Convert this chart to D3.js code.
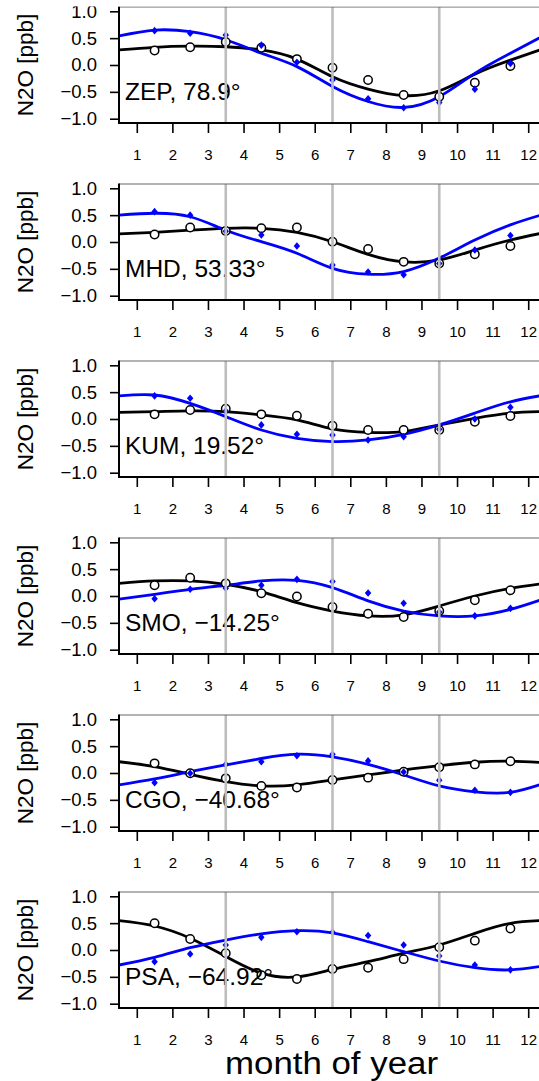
<!DOCTYPE html>
<html><head><meta charset="utf-8">
<script src="https://cdn.jsdelivr.net/npm/d3@7"></script>
<style>
body{margin:0;background:#fff}
svg{display:block}
text{font-family:"Liberation Sans",Arial,Helvetica,sans-serif;fill:#000}
</style>
</head><body>
<svg id="c" width="539" height="1081"></svg>
<script>
// ---- data ----
const stations = ["ZEP", "MHD", "KUM", "SMO", "CGO", "PSA"];
const latitudes = ["78.9°", "53.33°", "19.52°", "−14.25°", "−40.68°", "−64.92°"];
const monthTicks = [1,2,3,4,5,6,7,8,9,10,11,12];
const yTicks = [-1.0, -0.5, 0.0, 0.5, 1.0];
const seasonBreaks = [3.5, 6.5, 9.5];
const pointMonths = [1.5,2.5,3.5,4.5,5.5,6.5,7.5,8.5,9.5,10.5,11.5];
const curveMonths = [0.5,1.5,2.5,3.5,4.5,5.5,6.5,7.5,8.5,9.5,10.5,11.5,12.5];

// open black circles, one row per station
const circleValues = [
  [0.27, 0.33, 0.43, 0.32, 0.11, -0.05, -0.28, -0.56, -0.59, -0.33, -0.02],
  [0.14, 0.27, 0.205, 0.255, 0.27, 0.006, -0.13, -0.37, -0.40, -0.23, -0.075],
  [0.087, 0.168, 0.19, 0.087, 0.06, -0.125, -0.205, -0.205, -0.205, -0.05, 0.056],
  [0.199, 0.34, 0.236, 0.05, -0.01, -0.205, -0.33, -0.39, -0.28, -0.08, 0.106],
  [0.18, -0.006, -0.10, -0.24, -0.27, -0.13, -0.087, 0.024, 0.106, 0.16, 0.22],
  [0.497, 0.205, -0.06, -0.47, -0.54, -0.354, -0.33, -0.17, 0.05, 0.174, 0.40]
];
// blue diamonds
const diamondValues = [
  [0.64, 0.59, 0.56, 0.37, 0.05, -0.28, -0.63, -0.795, -0.70, -0.45, 0.03],
  [0.565, 0.50, 0.20, 0.13, -0.075, -0.43, -0.56, -0.61, -0.40, -0.15, 0.12],
  [0.43, 0.385, 0.15, -0.11, -0.285, -0.30, -0.39, -0.33, -0.19, 0.0, 0.22],
  [-0.05, 0.125, 0.143, 0.20, 0.31, 0.27, 0.056, -0.136, -0.30, -0.37, -0.23],
  [-0.18, -0.006, 0.16, 0.21, 0.32, 0.35, 0.225, 0.02, -0.136, -0.32, -0.36],
  [-0.217, -0.075, 0.093, 0.236, 0.34, 0.33, 0.27, 0.093, -0.11, -0.28, -0.37]
];
// black fitted curve (read at curveMonths)
const blackFit = [
  [0.28, 0.33, 0.35, 0.34, 0.28, 0.11, -0.22, -0.45, -0.57, -0.48, -0.17, 0.09, 0.32],
  [0.15, 0.18, 0.22, 0.255, 0.255, 0.18, 0.005, -0.23, -0.37, -0.335, -0.15, 0.037, 0.18],
  [0.125, 0.136, 0.15, 0.136, 0.075, -0.018, -0.185, -0.25, -0.235, -0.11, 0.013, 0.11, 0.14],
  [0.236, 0.28, 0.28, 0.217, 0.08, -0.125, -0.28, -0.37, -0.35, -0.186, 0.0, 0.143, 0.24],
  [0.21, 0.12, -0.024, -0.16, -0.24, -0.22, -0.13, -0.037, 0.056, 0.136, 0.20, 0.22, 0.19],
  [0.546, 0.447, 0.22, -0.12, -0.43, -0.50, -0.36, -0.217, -0.06, 0.093, 0.31, 0.497, 0.55]
];
// blue fitted curve
const blueFit = [
  [0.54, 0.65, 0.62, 0.47, 0.22, -0.03, -0.40, -0.68, -0.79, -0.59, -0.155, 0.22, 0.57],
  [0.50, 0.535, 0.47, 0.22, 0.006, -0.21, -0.49, -0.60, -0.55, -0.30, 0.037, 0.32, 0.53],
  [0.43, 0.447, 0.29, 0.045, -0.205, -0.36, -0.42, -0.39, -0.285, -0.11, 0.11, 0.32, 0.45],
  [-0.06, 0.032, 0.125, 0.20, 0.28, 0.29, 0.155, -0.09, -0.28, -0.37, -0.37, -0.25, -0.04],
  [-0.22, -0.11, 0.024, 0.15, 0.27, 0.35, 0.30, 0.16, -0.037, -0.24, -0.35, -0.36, -0.18],
  [-0.28, -0.136, 0.043, 0.186, 0.30, 0.36, 0.32, 0.155, -0.03, -0.205, -0.33, -0.37, -0.29]
];

// ---- layout ----
const svg = d3.select("#c");
const firstTop = 7, step = 177, boxH = 116;
const x = d3.scaleLinear().domain([0.5, 12.5]).range([119, 546]);
const BLUE = "#0000ff";

stations.forEach((st, i) => {
  const top = firstTop + i * step;
  const bottom = top + boxH;
  const y = d3.scaleLinear().domain([-1.08, 1.08]).range([bottom, top]);
  const g = svg.append("g");

  const clipId = "clip" + i;
  g.append("clipPath").attr("id", clipId).append("rect")
    .attr("x", x(0.5)).attr("y", top).attr("width", x(12.5) - x(0.5)).attr("height", boxH);

  // y axis
  const ya = g.append("g").attr("transform", `translate(${x(0.5)},0)`)
    .call(d3.axisLeft(y).tickValues(yTicks).tickSize(9).tickSizeOuter(0).tickPadding(13)
      .tickFormat(d3.format(".1f")));
  ya.select(".domain").remove();
  ya.selectAll("line").attr("stroke", "#000").attr("stroke-width", 1.6);
  ya.selectAll("text").style("font-size", "18.5px").attr("fill", "#000")
    .style("font-family", '"Liberation Sans",Arial,sans-serif');

  // x axis
  const xa = g.append("g").attr("transform", `translate(0,${bottom})`)
    .call(d3.axisBottom(x).tickValues(monthTicks).tickSize(10).tickSizeOuter(0).tickPadding(16)
      .tickFormat(d3.format("d")));
  xa.select(".domain").remove();
  xa.selectAll("line").attr("stroke", "#000").attr("stroke-width", 1.6);
  xa.selectAll("text").style("font-size", "15px").attr("fill", "#000")
    .style("font-family", '"Liberation Sans",Arial,sans-serif');

  // y title
  g.append("text")
    .attr("transform", `translate(33,${(top + bottom) / 2}) rotate(-90)`)
    .attr("text-anchor", "middle").style("font-size", "22.5px").attr("fill", "#111")
    .text("N2O [ppb]");

  const plot = g.append("g").attr("clip-path", `url(#${clipId})`);

  const line = d3.line().x(d => x(d[0])).y(d => y(d[1])).curve(d3.curveNatural);
  plot.append("path").datum(curveMonths.map((m, k) => [m, blackFit[i][k]]))
    .attr("d", line).attr("fill", "none").attr("stroke", "#000").attr("stroke-width", 2.8);
  plot.append("path").datum(curveMonths.map((m, k) => [m, blueFit[i][k]]))
    .attr("d", line).attr("fill", "none").attr("stroke", BLUE).attr("stroke-width", 2.8);

  plot.selectAll("circle.obs").data(pointMonths.map((m, k) => [m, circleValues[i][k]]))
    .enter().append("circle").attr("class", "obs")
    .attr("cx", d => x(d[0])).attr("cy", d => y(d[1])).attr("r", 4.2)
    .attr("fill", "#fff").attr("stroke", "#000").attr("stroke-width", 1.5);

  plot.selectAll("path.dia").data(pointMonths.map((m, k) => [m, diamondValues[i][k]]))
    .enter().append("path").attr("class", "dia")
    .attr("d", d => {
      const cx = x(d[0]), cy = y(d[1]), r = 3.8;
      return `M${cx},${cy - r}L${cx + r * 0.85},${cy}L${cx},${cy + r}L${cx - r * 0.85},${cy}Z`;
    })
    .attr("fill", BLUE);

  // station label
  g.append("text").attr("x", 125).attr("y", top + 93)
    .style("font-size", "24.5px").text(`${st}, ${latitudes[i]}`);

  // season separators
  g.selectAll("line.sep").data(seasonBreaks).enter().append("line").attr("class", "sep")
    .attr("x1", d => x(d)).attr("x2", d => x(d)).attr("y1", top).attr("y2", bottom)
    .attr("stroke", "#bdbdbd").attr("stroke-width", 2.6);

  // box
  g.append("line").attr("x1", x(0.5)).attr("x2", x(12.5)).attr("y1", top).attr("y2", top)
    .attr("stroke", "#666").attr("stroke-width", 1.1);
  g.append("line").attr("x1", x(0.5)).attr("x2", x(0.5)).attr("y1", top - 0.5).attr("y2", bottom + 1)
    .attr("stroke", "#000").attr("stroke-width", 2);
  g.append("line").attr("x1", x(0.5) - 1).attr("x2", x(12.5)).attr("y1", bottom).attr("y2", bottom)
    .attr("stroke", "#000").attr("stroke-width", 2);
});

// top of first panel's figure region is cropped
svg.append("rect").attr("x", 0).attr("y", 0).attr("width", 539).attr("height", 6.4).attr("fill", "#fff");

// x title
svg.append("text").attr("x", 331.5).attr("y", 1074).attr("text-anchor", "middle")
  .attr("textLength", 213).attr("lengthAdjust", "spacingAndGlyphs")
  .style("font-size", "31px").attr("fill", "#1a1a1a").text("month of year");
</script>
</body></html>
